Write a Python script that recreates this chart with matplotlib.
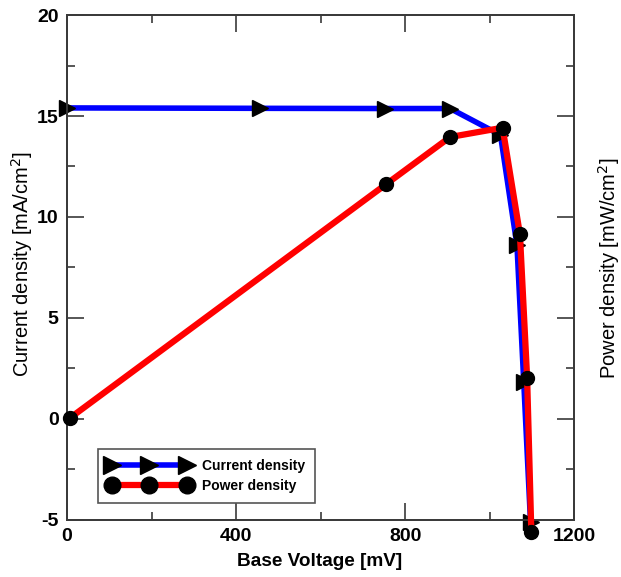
import matplotlib
matplotlib.use("Agg")
import matplotlib.pyplot as plt
from matplotlib.ticker import MultipleLocator

# values
volt_current = [0, 457, 753, 906, 1025, 1064, 1080, 1096]
current_density = [15.40, 15.38, 15.37, 15.37, 14.06, 8.60, 1.85, -5.08]

volt_power = [7, 755, 906, 1030, 1071, 1088, 1098]
power_density = [0.05, 11.63, 13.96, 14.42, 9.14, 2.04, -5.61]

x_ticks = [0, 400, 800, 1200]
y_ticks = [-5, 0, 5, 10, 15, 20]

plt.rcParams['font.family'] = ['Liberation Sans', 'DejaVu Sans']
plt.rcParams['axes.unicode_minus'] = False
spine_col = '#3a3a3a'

W, H = 621, 577
fig = plt.figure(figsize=(W / 100, H / 100), dpi=100)
ax = fig.add_axes([0.1079, 0.0988, 0.8172, 0.8752])
ax2 = ax.twinx()

ax.plot(volt_current, current_density, color='#0000ff', lw=4, marker='>',
        markersize=11, markerfacecolor='black', markeredgecolor='black',
        clip_on=False, zorder=3, label='Current density')
ax2.plot(volt_power, power_density, color='#ff0000', lw=4.5, marker='o',
         markersize=10, markerfacecolor='black', markeredgecolor='black',
         clip_on=False, zorder=3, label='Power density')

for a in (ax, ax2):
    a.set_xlim(0, 1200)
    a.set_ylim(-5, 20)
    for s in a.spines.values():
        s.set_color(spine_col)
        s.set_linewidth(1.3)

ax.set_xticks(x_ticks)
ax.set_yticks(y_ticks)
ax.xaxis.set_minor_locator(MultipleLocator(200))
ax.yaxis.set_minor_locator(MultipleLocator(2.5))
ax2.yaxis.set_minor_locator(MultipleLocator(2.5))
ax2.set_yticks(y_ticks)
ax2.set_yticklabels([])

ax.tick_params(which='both', direction='in', top=True, color=spine_col, width=1.2)
ax.tick_params(which='major', length=12, labelsize=14, pad=6)
ax.tick_params(which='minor', length=6)
ax2.tick_params(which='both', direction='in', color=spine_col, width=1.2)
ax2.tick_params(which='major', length=12)
ax2.tick_params(which='minor', length=6)
for lbl in ax.get_xticklabels() + ax.get_yticklabels():
    lbl.set_fontweight('bold')

# axis titles placed at their pixel positions in the reference
fig.text(320 / W, 1 - 562 / H, 'Base Voltage [mV]', fontsize=13.7,
         fontweight='bold', ha='center', va='center')
fig.text(22 / W, 1 - 264 / H, 'Current density [mA/cm$^2$]', fontsize=14.5,
         rotation=90, ha='center', va='center')
fig.text(609 / W, 1 - 268 / H, 'Power density [mW/cm$^2$]', fontsize=14.5,
         rotation=90, ha='center', va='center')

h1, l1 = ax.get_legend_handles_labels()
h2, l2 = ax2.get_legend_handles_labels()
leg = ax2.legend(h1 + h2, l1 + l2, loc='lower left', bbox_to_anchor=(0.061, 0.034),
                 numpoints=3, handlelength=6.0, markerscale=1.2, fancybox=False,
                 framealpha=1, edgecolor='#555555',
                 prop={'weight': 'bold', 'size': 10},
                 borderpad=0.7, labelspacing=0.45, handletextpad=0.8,
                 borderaxespad=0)
leg.get_frame().set_linewidth(1.2)

fig.savefig('out.png', dpi=100)
